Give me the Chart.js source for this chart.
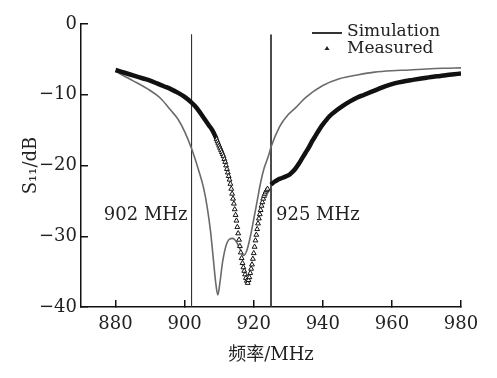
<!DOCTYPE html>
<html lang="zh">
<head>
<meta charset="UTF-8">
<title>S11 simulation vs measured</title>
<script src="https://cdn.jsdelivr.net/npm/chart.js"></script>
<style>
  body { margin: 0; padding: 0; background: #fff; }
</style>
</head>
<body>
<canvas id="s11Chart" width="497" height="378"></canvas>
<script>
// axis ticks
var xTicks = [880, 900, 920, 940, 960, 980];
var yTicks = [0, -10, -20, -30, -40];

// simulation curve (MHz, dB)
var simFreq = [880, 885, 890, 893, 896, 898, 900, 902, 904, 905.5, 906.5, 907.5, 908.4, 909, 909.6, 910.2, 911, 912, 913, 913.9,
  915, 916, 917.1, 918, 919, 920, 921, 922, 923, 924.3, 925, 927.5, 930, 932, 935, 940, 945, 950, 955, 960, 965, 970, 975, 980];
var simDb = [-6.7, -8.0, -9.4, -10.5, -12.2, -13.4, -15.2, -17.6, -20.6, -23.2, -25.8, -29.3, -33.7, -36.6, -38.3, -36.6, -33.6, -31.3, -30.4, -30.3,
  -30.8, -31.8, -32.7, -32.0, -30.1, -27.6, -25.0, -22.4, -20.4, -18.6, -17.4, -14.5, -12.8, -11.9, -10.4, -8.7, -7.7, -7.2, -6.8, -6.6, -6.5, -6.35, -6.25, -6.2];

// measured curve (MHz, dB), read more finely inside the dip
var measFreq = [880, 882, 884, 886, 888, 890, 892, 894, 896, 898, 900, 902, 903, 904, 905, 906, 907, 908,
  909, 909.25, 909.5, 909.75, 910, 910.25, 910.5, 910.75, 911, 911.25, 911.5, 911.75,
  912, 912.25, 912.5, 912.75, 913, 913.25, 913.5, 913.75, 914, 914.25, 914.5, 914.75,
  915, 915.25, 915.5, 915.75, 916, 916.25, 916.5, 916.75, 917, 917.25, 917.5, 917.75,
  918, 918.25, 918.5, 918.75, 919, 919.25, 919.5, 919.75, 920, 920.25, 920.5, 920.75,
  921, 921.25, 921.5, 921.75, 922, 922.25, 922.5, 922.75, 923, 923.25, 923.5, 923.75, 924,
  925, 926, 927, 928, 929, 930, 931, 932, 933, 934, 935, 936, 937, 938, 939, 940,
  942, 944, 946, 948, 950, 952, 954, 956, 958, 960, 962, 964, 966, 968, 970, 972, 974, 976, 978, 980];
var measDb = [-6.5, -6.8, -7.1, -7.4, -7.7, -8.0, -8.4, -8.8, -9.2, -9.7, -10.3, -11.1, -11.6, -12.2, -12.9, -13.6, -14.3, -15.0,
  -16.0, -16.3, -16.6, -16.9, -17.2, -17.5, -17.8, -18.1, -18.4, -18.7, -19.1, -19.5,
  -20.0, -20.5, -21.0, -21.5, -22.0, -22.6, -23.3, -24.0, -24.7, -25.4, -26.2, -27.0,
  -27.8, -28.7, -29.6, -30.5, -31.4, -32.3, -33.1, -33.8, -34.4, -34.9, -35.4, -35.9,
  -36.3, -36.6, -36.2, -35.8, -35.2, -34.6, -34.0, -33.2, -32.4, -31.5, -30.6, -29.8,
  -29.0, -28.2, -27.5, -26.9, -26.3, -25.7, -25.2, -24.7, -24.3, -24.0, -23.7, -23.5, -23.3,
  -22.7, -22.3, -22.0, -21.8, -21.6, -21.4, -21.0, -20.5, -19.8, -19.0, -18.2, -17.4, -16.5, -15.7, -14.9, -14.2,
  -13.0, -12.2, -11.5, -10.9, -10.4, -10.0, -9.6, -9.2, -8.8, -8.5, -8.25, -8.05, -7.9, -7.75, -7.6, -7.45, -7.35, -7.2, -7.1, -7.0];

// band edge markers
var markerFreq = [902, 925];
var markerText = ['902 MHz', '925 MHz'];
var markerTop = -1.5;
var markerTextDb = -27;

var serif = "'DejaVu Serif', 'Noto Sans CJK SC', serif";

function toPoints(xs, ys) {
  var out = [];
  for (var i = 0; i < xs.length; i++) out.push({ x: xs[i], y: ys[i] });
  return out;
}

// triangles are only visible one by one inside the dip, elsewhere they merge into a thick band
function inDip(x) {
  return x >= 909.5 && x <= 924;
}

function markerLine(f) {
  return {
    type: 'line',
    data: [{ x: f, y: markerTop }, { x: f, y: -40 }],
    borderColor: '#333',
    borderWidth: 1,
    pointRadius: 0,
    order: 3
  };
}

// legend + band labels
var extras = {
  id: 'extras',
  afterDatasetsDraw: function(chart) {
    var ctx = chart.ctx;
    var xs = chart.scales.x, ys = chart.scales.y;
    var area = chart.chartArea;
    ctx.save();
    ctx.fillStyle = '#222';
    ctx.font = '18px ' + serif;
    ctx.textBaseline = 'middle';
    var ty = ys.getPixelForValue(markerTextDb);
    ctx.textAlign = 'right';
    ctx.fillText(markerText[0], xs.getPixelForValue(markerFreq[0]) - 4, ty);
    ctx.textAlign = 'left';
    ctx.fillText(markerText[1], xs.getPixelForValue(markerFreq[1]) + 5, ty);

    // legend
    var lx = area.right - 149, ly = area.top + 9;
    ctx.strokeStyle = '#333';
    ctx.lineWidth = 2;
    ctx.beginPath();
    ctx.moveTo(lx, ly);
    ctx.lineTo(lx + 30, ly);
    ctx.stroke();
    ctx.fillStyle = '#222';
    ctx.beginPath();
    ctx.moveTo(lx + 15, ly + 13);
    ctx.lineTo(lx + 17.5, ly + 17);
    ctx.lineTo(lx + 12.5, ly + 17);
    ctx.closePath();
    ctx.fill();
    ctx.font = '17px ' + serif;
    ctx.textAlign = 'left';
    ctx.fillText(chart.data.datasets[0].label, lx + 35, ly - 1);
    ctx.fillText(chart.data.datasets[1].label, lx + 35, ly + 16);
    ctx.restore();
  }
};

new Chart(document.getElementById('s11Chart').getContext('2d'), {
  type: 'line',
  data: {
    datasets: [
      {
        label: 'Simulation',
        data: toPoints(simFreq, simDb),
        borderColor: '#6a6a6a',
        borderWidth: 1.6,
        pointRadius: 0,
        cubicInterpolationMode: 'monotone',
        order: 2
      },
      {
        label: 'Measured',
        data: toPoints(measFreq, measDb),
        borderColor: '#111',
        borderWidth: 4.5,
        cubicInterpolationMode: 'monotone',
        pointStyle: 'triangle',
        pointRadius: function(c) { return c.raw && c.raw.x >= 909.25 && c.raw.x <= 924 ? 2.8 : 0; },
        pointBorderColor: '#111',
        pointBackgroundColor: '#fff',
        pointBorderWidth: 1,
        segment: {
          borderColor: function(c) {
            return (inDip(c.p0.parsed.x) || inDip(c.p1.parsed.x)) ? 'rgba(0,0,0,0)' : '#111';
          }
        },
        order: 1
      },
      markerLine(markerFreq[0]),
      markerLine(markerFreq[1])
    ]
  },
  options: {
    responsive: false,
    animation: false,
    layout: { padding: { top: 24, right: 36, left: 0, bottom: 0 } },
    plugins: {
      legend: { display: false },
      tooltip: { enabled: false }
    },
    scales: {
      x: {
        type: 'linear',
        min: 870,
        max: 980,
        afterBuildTicks: function(s) { s.ticks = xTicks.map(function(v) { return { value: v }; }); },
        afterFit: function(s) { s.height = 71; },
        border: { color: '#111', width: 1.5 },
        grid: { drawOnChartArea: false, drawTicks: true, tickLength: -7, color: '#111', lineWidth: 1.5 },
        ticks: { padding: 14, color: '#222', font: { family: serif, size: 18 } },
        title: {
          display: true,
          text: '频率/MHz',
          color: '#222',
          font: { family: serif, size: 18 },
          padding: { top: 0, bottom: 12 }
        }
      },
      y: {
        type: 'linear',
        min: -40,
        max: 0,
        afterBuildTicks: function(s) { s.ticks = yTicks.map(function(v) { return { value: v }; }); },
        afterFit: function(s) { s.width = 81; },
        border: { color: '#111', width: 1.5 },
        grid: { drawOnChartArea: false, drawTicks: true, tickLength: -7, color: '#111', lineWidth: 1.5 },
        ticks: {
          padding: 11,
          color: '#222',
          font: { family: serif, size: 18 },
          callback: function(v) { return v < 0 ? '\u2212' + Math.abs(v) : String(v); }
        },
        title: {
          display: true,
          text: 'S\u2081\u2081/dB',
          color: '#222',
          font: { family: serif, size: 18 },
          padding: { top: 21, bottom: 0 }
        }
      }
    }
  },
  plugins: [extras]
});
</script>
</body>
</html>
